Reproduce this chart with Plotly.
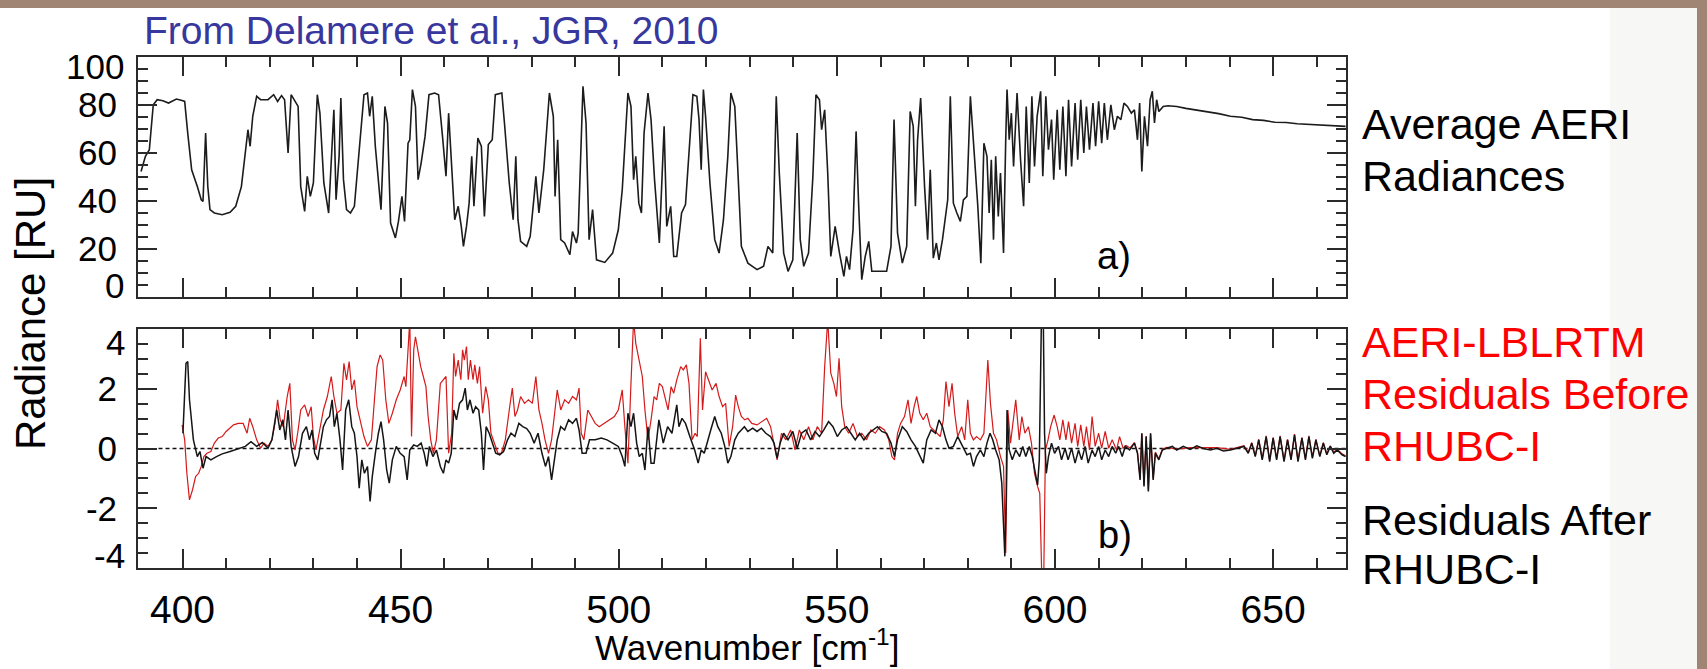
import plotly.graph_objects as go

# ---------------- data ----------------
wn_top = [390.5, 391.5, 392.4, 393.3, 394.2, 395.5, 396.8, 398.6, 399.9, 400.5, 401.2, 402.1, 403.4, 404.3, 404.7,
          405.3, 405.8, 406.3, 407.3, 409.1, 410.9, 412.2, 413.5, 414.4, 415.0, 415.5, 416.1, 417.0, 417.9, 419.6,
          420.9, 421.8, 422.7, 423.4, 424.2, 424.9, 425.8, 426.5, 427.1, 428.0, 428.6, 429.3, 430.0, 430.9, 431.5,
          432.4, 433.5, 434.1, 434.7, 435.2, 435.9, 436.3, 436.9, 437.6, 438.5, 439.4, 440.7, 441.6, 442.4, 442.9,
          443.5, 444.2, 445.5, 446.4, 447.0, 447.7, 448.8, 449.5, 450.3, 450.9, 451.7, 452.1, 452.7, 453.4, 454.0,
          454.7, 455.6, 456.5, 457.8, 458.7, 459.6, 460.4, 461.0, 461.7, 462.4, 463.2, 463.9, 464.4, 465.1, 465.7,
          466.3, 466.8, 467.7, 468.5, 469.2, 470.1, 471.0, 471.7, 473.2, 473.8, 474.9, 475.8, 476.4, 476.9, 477.5,
          478.9, 479.7, 480.6, 481.0, 481.7, 482.8, 484.1, 485.0, 485.4, 486.0, 486.7, 487.6, 488.8, 489.4, 490.3,
          490.7, 491.8, 492.5, 493.2, 494.0, 494.9, 496.8, 498.6, 499.9, 500.8, 502.1, 502.8, 503.4, 503.9, 504.6,
          505.2, 505.8, 506.7, 507.4, 508.2, 509.3, 510.4, 511.0, 511.9, 512.6, 513.3, 514.4, 515.3, 516.1, 517.0,
          517.9, 518.4, 518.9, 519.4, 519.9, 520.9, 522.0, 523.0, 524.0, 525.0, 525.7, 526.6, 527.4, 528.1, 529.6,
          531.7, 533.2, 534.2, 535.3, 536.1, 536.8, 537.8, 538.8, 539.9, 540.9, 541.6, 542.4, 543.5, 544.5, 545.2,
          546.0, 546.5, 547.2, 547.9, 548.6, 549.6, 550.6, 551.6, 552.2, 552.9, 553.7, 554.4, 555.0, 555.7, 556.5,
          557.3, 558.0, 559.3, 561.4, 562.4, 563.1, 563.9, 565.0, 566.0, 566.8, 567.5, 568.0, 568.5, 569.2, 570.1,
          570.8, 571.4, 572.1, 572.8, 573.4, 574.2, 574.7, 575.4, 576.0, 576.7, 577.5, 578.3, 579.0, 579.8, 580.6,
          581.3, 582.3, 583.0, 583.7, 584.4, 584.9, 585.4, 585.9, 586.4, 587.0, 587.5, 588.2, 588.7, 589.0, 589.5,
          590.0, 590.5, 591.3, 592.1, 592.8, 593.4, 594.1, 594.7, 595.3, 595.9, 596.7, 597.2, 597.9, 598.5, 599.2,
          599.7, 600.5, 601.1, 601.8, 602.5, 603.1, 603.8, 604.6, 605.2, 605.9, 606.6, 607.2, 607.9, 608.7, 609.3,
          610.0, 610.7, 611.3, 612.0, 612.8, 613.6, 614.3, 615.1, 615.8, 616.6, 617.5, 618.2, 618.9, 619.4, 619.9,
          620.5, 621.2, 621.8, 622.3, 622.8, 623.3, 623.8, 624.8, 625.9, 627.9, 630.0, 632.5, 635.1, 637.5, 640.2,
          642.8, 645.3, 647.8, 650.4, 653.0, 655.5, 658.0, 660.6, 663.5, 666.6]
rad_top = [52.3, 58.6, 61.4, 80.1, 82.2, 81.8, 80.8, 82.5, 81.9, 81.5, 68.3, 53.0, 46.0, 40.5, 39.8,
           68.3, 46.0, 36.4, 35.0, 34.3, 35.3, 37.8, 46.0, 60.0, 69.7, 62.8, 75.3, 83.6, 82.2, 82.2,
           84.3, 81.5, 83.9, 82.2, 60.0, 84.3, 81.5, 79.4, 46.0, 35.7, 50.3, 41.9, 47.5, 84.3, 76.6,
           47.5, 35.0, 54.4, 78.0, 40.5, 58.6, 82.9, 48.9, 36.4, 35.0, 37.8, 65.5, 84.3, 85.0, 75.3,
           83.6, 62.8, 36.4, 79.4, 72.5, 30.8, 24.6, 31.5, 41.9, 31.5, 64.1, 65.5, 86.4, 79.4, 48.9,
           55.8, 66.9, 84.3, 85.0, 84.3, 66.9, 50.3, 76.6, 54.4, 32.2, 37.8, 29.4, 21.1, 29.4, 39.1,
           58.6, 37.8, 66.2, 62.8, 33.6, 63.5, 65.5, 84.3, 85.0, 72.5, 47.5, 32.2, 58.6, 32.2, 23.2,
           21.1, 25.3, 41.9, 50.3, 35.0, 53.0, 85.0, 75.3, 41.9, 65.5, 23.9, 22.5, 17.6, 27.3, 22.5,
           26.6, 87.8, 72.5, 23.9, 36.4, 15.5, 14.4, 18.3, 28.0, 44.7, 85.0, 79.4, 48.9, 58.6, 39.1,
           35.0, 68.3, 85.0, 73.9, 48.9, 22.5, 71.1, 29.4, 37.8, 16.9, 16.9, 35.0, 38.5, 60.0, 84.3,
           83.6, 73.9, 53.0, 86.4, 75.3, 47.5, 23.9, 18.3, 32.2, 58.6, 85.0, 79.4, 48.9, 21.1, 14.1,
           11.4, 12.8, 21.1, 18.3, 83.6, 51.7, 18.3, 10.7, 15.5, 68.3, 23.9, 12.8, 18.3, 50.3, 84.3,
           82.2, 69.7, 78.0, 51.7, 16.9, 29.4, 18.3, 8.6, 16.9, 11.4, 28.0, 69.0, 37.8, 7.2, 16.9,
           23.2, 10.7, 10.7, 10.7, 21.1, 73.9, 26.6, 14.1, 21.1, 77.3, 71.1, 37.8, 65.5, 82.9, 46.0,
           23.9, 53.0, 16.2, 22.5, 15.5, 23.9, 31.5, 40.5, 83.6, 39.1, 35.0, 31.5, 40.5, 41.9, 83.6,
           65.5, 37.8, 14.1, 64.1, 58.6, 35.0, 57.2, 23.9, 58.6, 33.6, 51.7, 18.3, 65.5, 86.4, 65.5,
           76.6, 54.4, 85.0, 57.2, 37.8, 79.4, 47.5, 83.6, 54.4, 75.3, 85.7, 50.3, 83.6, 61.4, 73.9,
           48.9, 78.0, 53.0, 79.4, 50.3, 82.2, 54.4, 80.8, 57.2, 82.2, 60.0, 79.4, 61.4, 80.8, 62.8,
           81.5, 64.1, 80.8, 65.5, 80.1, 69.7, 75.3, 73.9, 80.8, 79.4, 76.6, 78.0, 65.5, 80.8, 52.3,
           75.3, 62.8, 82.2, 85.7, 72.5, 82.2, 77.3, 79.4, 79.7, 79.4, 78.6, 77.9, 77.3, 76.4, 75.3,
           74.9, 73.9, 73.6, 72.8, 72.7, 72.2, 72.0, 71.8, 71.4, 71.1]

wn_before = [399.9, 400.5, 401.0, 401.6, 402.3, 403.0, 403.7, 404.3, 404.9, 405.6, 406.5, 407.3, 408.2, 409.1, 410.0,
             410.9, 411.7, 412.8, 413.9, 414.8, 415.4, 416.1, 417.0, 417.9, 418.7, 419.6, 420.5, 421.2, 421.8, 422.4,
             423.1, 424.0, 424.6, 425.2, 425.8, 426.5, 427.1, 428.0, 428.8, 429.5, 430.0, 430.6, 431.5, 432.3, 433.2,
             434.1, 434.7, 435.4, 436.3, 437.0, 437.6, 438.2, 438.8, 439.4, 440.0, 440.7, 441.6, 442.4, 443.3, 444.0,
             444.6, 445.3, 445.9, 446.6, 447.3, 448.1, 449.0, 449.9, 450.8, 451.2, 451.7, 452.1, 452.5, 453.0, 453.4,
             453.8, 454.6, 455.2, 455.8, 456.3, 456.9, 457.5, 458.2, 459.1, 459.8, 460.4, 461.0, 461.7, 462.2, 462.6,
             463.2, 463.8, 464.2, 464.6, 465.1, 465.5, 466.0, 466.6, 467.0, 467.6, 468.1, 468.8, 469.5, 470.1, 470.7,
             471.4, 472.3, 473.1, 474.0, 474.9, 475.6, 476.2, 476.8, 477.5, 478.4, 479.3, 480.2, 481.0, 481.7, 482.4,
             483.1, 483.9, 484.6, 485.3, 485.9, 486.7, 487.6, 488.5, 489.4, 490.3, 490.9, 491.4, 492.0, 492.9, 493.8,
             494.6, 495.5, 496.7, 497.7, 499.0, 499.9, 500.8, 501.4, 502.1, 502.8, 503.4, 503.9, 504.7, 505.4, 506.0,
             506.7, 507.4, 508.1, 508.7, 509.3, 510.0, 510.7, 511.3, 512.0, 512.6, 513.3, 514.2, 514.8, 515.5, 516.1,
             516.8, 517.5, 518.0, 518.7, 519.2, 519.9, 520.6, 521.4, 522.3, 523.0, 523.8, 524.5, 525.3, 526.1, 526.8,
             527.4, 528.1, 528.9, 529.6, 530.5, 531.7, 532.9, 533.9, 534.8, 535.6, 536.3, 537.3, 538.3, 539.4, 540.4,
             541.4, 542.4, 543.5, 544.5, 545.5, 546.5, 547.2, 547.9, 548.6, 549.3, 549.9, 550.5, 551.1, 551.8, 552.7,
             553.7, 554.7, 555.7, 556.8, 557.8, 558.8, 559.8, 560.9, 561.9, 562.6, 563.2, 563.9, 564.6, 565.5, 566.3,
             567.0, 567.7, 568.3, 569.0, 569.8, 570.6, 571.4, 572.1, 572.8, 573.7, 574.4, 575.0, 575.7, 576.4, 577.0,
             577.7, 578.6, 579.3, 580.0, 580.6, 581.3, 582.0, 582.9, 583.7, 584.6, 585.2, 585.9, 586.6, 587.5, 588.2,
             588.7, 589.2, 589.8, 590.5, 591.0, 591.8, 592.4, 593.1, 593.9, 594.6, 595.3, 596.0, 596.5, 597.0, 597.4,
             597.8, 598.4, 599.0, 599.8, 600.5, 601.1, 601.8, 602.5, 603.1, 603.8, 604.6, 605.2, 605.9, 606.6, 607.2,
             607.9, 608.5, 609.2, 610.0, 610.7, 611.5, 612.3, 613.1, 614.1, 614.8, 615.6, 616.3, 617.2, 618.2, 618.9,
             619.5, 619.9, 620.4, 620.9, 621.4, 621.9, 622.5, 623.0, 623.8, 624.6, 625.6, 627.9, 631.0, 634.0, 637.1,
             640.2, 643.3, 644.3, 645.1, 645.9, 646.7, 647.5, 648.4, 649.2, 650.0, 650.8, 651.6, 652.5, 653.3, 654.1,
             654.9, 655.7, 656.6, 657.4, 658.2, 659.0, 659.8, 660.7, 661.5, 662.3, 663.1, 663.9, 664.7, 665.8, 666.6]
res_before = [0.79, 0.29, -0.83, -1.72, -1.38, -0.94, -0.83, -0.60, -0.27, -0.16, -0.10, 0.18, 0.35, 0.40, 0.57,
              0.68, 0.79, 0.84, 0.84, 0.51, 1.01, 0.73, 0.29, 0.01, 0.18, 0.07, 0.29, 0.84, 1.63, 0.96,
              0.73, 1.74, 2.18, 0.29, -0.05, 0.62, 1.29, 1.46, 1.07, 1.40, 0.40, -0.05, 0.73, 1.29, 1.74,
              2.41, 1.74, 1.18, 1.29, 2.85, 2.30, 2.91, 1.96, 2.30, 1.40, 0.96, 0.40, 0.07, 0.29, 1.63,
              2.74, 3.13, 2.96, 1.63, 0.84, 1.18, 1.63, 1.96, 2.41, 2.07, 3.19, 4.30, 0.40, 3.30, 3.74,
              3.41, 2.74, 2.41, 2.07, 1.07, 0.29, -0.16, 0.29, 2.18, 2.30, 2.41, -0.16, 0.51, 3.19, 2.41,
              2.96, 2.30, 3.30, 2.96, 3.41, 2.30, 2.96, 2.30, 2.80, 2.18, 2.74, 1.18, 2.07, 1.63, 0.51,
              0.18, -0.16, -0.16, 0.29, 1.29, 2.02, 1.07, 1.29, 1.74, 1.51, 1.63, 1.51, 2.41, 1.29, 0.84,
              0.29, -0.16, 0.29, 1.18, 1.96, 1.29, 1.63, 1.51, 1.74, 1.63, 2.02, 0.51, 0.29, 1.29, 1.07,
              0.84, 0.73, 0.84, 0.96, 1.07, 1.29, 1.96, 0.73, -0.49, 2.18, 4.30, 3.52, 2.96, 2.41, 1.29,
              0.29, 0.96, 1.74, 1.63, 2.18, 2.07, 1.63, 1.29, 2.07, 1.85, 2.30, 2.74, 2.63, 2.80, 2.18,
              0.29, 0.51, 0.40, 3.69, 1.29, 2.57, 2.30, 1.96, 2.18, 1.74, 1.40, 1.51, 0.07, 0.73, 1.79,
              1.40, 1.07, 0.96, 1.01, 0.84, 0.79, 0.90, 1.01, 0.73, 0.18, -0.38, 0.51, 0.29, 0.62, -0.05,
              0.62, 0.29, 0.73, 0.29, 0.73, 0.51, 2.74, 4.30, 2.52, 2.18, 1.74, 3.02, 1.40, 0.73, 0.51,
              0.84, 0.40, 0.51, 0.29, 0.62, 0.51, 0.73, 0.62, 0.29, -0.27, -0.38, 0.51, 0.84, 1.07, 1.63,
              0.84, 1.40, 1.74, 1.18, 0.96, 1.18, 0.73, 0.62, 0.51, 0.40, 0.96, 2.24, 1.40, 2.18, 1.18,
              0.40, 0.73, 0.29, 1.63, 0.51, 0.29, 0.40, 0.29, 0.51, 2.96, 1.51, 0.51, 0.29, -0.27, -0.60,
              -3.50, 1.29, 0.18, 0.96, 1.63, 0.29, 1.07, 0.51, 0.73, 0.18, -0.83, -1.27, -1.50, -4.50, -4.50,
              -0.05, 0.29, 0.73, 1.12, 0.73, 0.29, 0.96, 0.29, 0.90, 0.18, 0.84, 0.07, 0.79, 0.07, 0.73,
              -0.05, 1.07, 0.07, 0.51, 0.01, 0.57, 0.01, 0.29, -0.05, 0.40, 0.01, 0.10, 0.02, 0.20, -0.12,
              -1.00, 0.50, -1.22, 0.42, -1.40, 0.50, -1.00, -0.12, -0.34, -0.02, 0.04, -0.02, 0.03, 0.02, 0.03,
              -0.03, 0.09, -0.12, 0.20, -0.25, 0.31, -0.35, 0.42, -0.40, 0.37, -0.35, 0.42, -0.40, 0.31, -0.35,
              0.48, -0.40, 0.37, -0.35, 0.42, -0.30, 0.31, -0.25, 0.20, -0.18, 0.09, -0.12, -0.03, -0.18, -0.24]

wn_after = [400.1, 400.8, 401.2, 401.6, 402.5, 403.4, 404.0, 404.7, 405.4, 406.5, 407.8, 409.1, 410.9, 412.6, 414.4,
            415.7, 417.0, 418.3, 419.6, 420.5, 421.6, 422.3, 423.0, 423.6, 424.2, 424.9, 425.8, 426.6, 427.5, 428.4,
            429.1, 429.7, 430.3, 431.0, 431.7, 432.3, 433.0, 433.7, 434.3, 434.8, 435.4, 436.1, 436.7, 437.4, 438.1,
            438.8, 439.4, 440.0, 440.5, 441.1, 441.7, 442.4, 443.0, 443.5, 444.2, 444.9, 445.5, 446.1, 446.8, 447.4,
            448.1, 449.0, 449.9, 450.8, 451.5, 452.1, 453.0, 453.8, 454.7, 455.4, 456.0, 456.6, 457.4, 458.2, 459.1,
            459.8, 460.4, 461.0, 461.6, 462.2, 462.8, 463.5, 464.2, 464.8, 465.3, 465.9, 466.6, 467.2, 467.9, 468.5,
            469.0, 469.6, 470.3, 471.0, 471.8, 472.7, 473.6, 474.5, 475.3, 476.2, 477.1, 478.0, 478.9, 479.7, 480.6,
            481.5, 482.4, 483.2, 483.9, 484.6, 485.3, 485.9, 486.7, 487.6, 488.5, 489.4, 490.3, 490.9, 491.6, 492.5,
            493.3, 494.6, 496.0, 497.3, 498.6, 499.9, 500.8, 501.4, 502.1, 502.8, 503.4, 504.1, 504.7, 505.4, 506.0,
            506.7, 507.4, 508.1, 509.2, 510.2, 511.2, 512.2, 513.3, 513.8, 514.5, 515.3, 516.3, 517.4, 518.2, 518.9,
            519.6, 520.4, 521.2, 522.0, 522.7, 523.5, 524.3, 525.0, 525.7, 526.6, 527.4, 528.1, 528.8, 529.6, 530.7,
            531.7, 532.7, 533.7, 534.8, 535.6, 536.3, 537.0, 537.8, 538.8, 539.9, 540.9, 541.9, 542.9, 544.0, 545.0,
            546.0, 547.0, 548.1, 549.1, 550.1, 551.1, 552.2, 553.2, 554.2, 555.2, 556.2, 557.3, 558.3, 559.3, 560.3,
            561.4, 562.4, 563.2, 563.9, 565.0, 566.0, 567.0, 568.0, 569.0, 569.8, 570.6, 571.6, 572.6, 573.4, 574.2,
            575.0, 575.7, 576.7, 577.7, 578.8, 579.8, 580.6, 581.3, 582.0, 582.9, 583.7, 584.4, 585.1, 585.7, 586.4,
            587.2, 587.8, 588.2, 588.5, 588.8, 589.0, 589.5, 590.2, 591.0, 591.9, 592.6, 593.3, 594.1, 594.8, 595.5,
            596.0, 596.4, 596.9, 597.3, 597.6, 598.0, 598.5, 599.2, 599.9, 600.8, 601.5, 602.3, 603.0, 603.8, 604.6,
            605.4, 606.1, 606.9, 607.6, 608.5, 609.2, 610.0, 610.7, 611.5, 612.3, 613.1, 613.9, 614.6, 615.4, 616.1,
            617.1, 618.2, 618.9, 619.5, 619.9, 620.4, 620.9, 621.4, 621.9, 622.5, 623.0, 623.8, 624.6, 625.6, 626.9,
            627.9, 629.4, 631.0, 632.5, 634.0, 635.6, 637.1, 638.6, 640.2, 641.7, 643.3, 644.3, 645.1, 645.9, 646.7,
            647.5, 648.4, 649.2, 650.0, 650.8, 651.6, 652.5, 653.3, 654.1, 654.9, 655.7, 656.6, 657.4, 658.2, 659.0,
            659.8, 660.7, 661.5, 662.3, 663.1, 663.9, 664.7, 665.8, 666.6]
res_after = [0.51, 2.85, 2.91, 1.63, 0.29, -0.27, -0.10, -0.66, -0.27, -0.38, -0.27, -0.18, -0.10, -0.02, 0.07,
             0.23, 0.07, 0.20, 0.01, 0.29, 1.29, 0.62, 0.96, 0.29, 1.29, 0.07, -0.60, -0.27, 0.51, 0.73,
             0.29, 0.62, -0.16, -0.38, 0.29, 0.73, 0.96, 1.07, 1.63, 0.73, 1.18, 0.29, -0.72, 1.29, 1.63,
             0.73, 0.51, -0.27, -1.33, -0.38, -0.83, -0.60, -1.77, -0.94, -0.16, 0.51, 0.90, 0.29, -0.72, -1.16,
             -0.38, 0.07, -0.16, -0.27, -1.05, -0.05, 0.12, 0.07, 0.18, -0.16, -0.60, 0.07, -0.27, -0.05, -0.60,
             -0.83, -0.38, -0.49, -0.16, 1.29, 0.96, 1.51, 1.63, 2.02, 1.29, 1.63, 1.18, 1.40, 1.29, 0.51,
             -0.72, 0.73, 0.51, 0.18, -0.16, -0.21, -0.10, 0.29, 0.51, 0.40, 0.84, 0.73, 0.67, 0.51, 0.18,
             0.51, -0.16, -0.60, -0.27, -1.05, -0.38, 0.29, 0.73, 0.62, 0.96, 0.84, 1.01, 0.62, -0.16, -0.16,
             0.29, 0.29, 0.35, 0.29, 0.18, 0.07, -0.27, -0.60, 1.18, 0.73, 1.18, 0.18, -0.27, -0.16, -0.72,
             0.73, -0.49, -0.49, 0.96, 0.18, 0.73, 0.51, 1.46, 0.73, 1.01, 0.84, 0.40, -0.05, -0.49, -0.05,
             -0.16, 0.29, 0.68, 1.07, 0.73, 0.51, 0.07, -0.49, -0.27, 0.29, 0.51, 0.62, 0.73, 0.57, 0.68,
             0.57, 0.68, 0.51, 0.40, 0.18, -0.32, 0.18, 0.51, 0.29, 0.57, 0.01, 0.51, 0.62, 0.29, 0.57,
             0.40, 0.62, 0.90, 0.73, 0.40, 0.62, 0.73, 0.51, 0.29, 0.51, 0.29, 0.51, 0.62, 0.73, 0.57,
             0.51, 0.18, -0.27, 0.29, 0.73, 0.57, 0.29, 0.07, -0.27, -0.49, 0.29, 0.62, 0.51, 0.96, 0.73,
             0.29, 0.01, 0.07, 0.40, 0.07, -0.21, -0.16, -0.60, -0.27, -0.05, -0.27, 0.18, 0.51, 0.30, -0.05,
             -0.38, -1.16, -2.83, -3.61, -1.72, 1.29, -0.05, -0.38, -0.05, -0.27, 0.07, -0.27, 0.07, -0.27, -0.83,
             -1.22, -0.38, 4.50, 4.50, 0.51, -0.83, -0.27, 0.18, -0.16, 0.07, -0.38, 0.01, -0.38, 0.01, -0.49,
             -0.05, -0.38, 0.07, -0.49, -0.05, -0.27, 0.07, -0.38, -0.05, -0.27, 0.07, -0.16, 0.07, -0.27, 0.07,
             -0.05, 0.18, -0.16, -1.05, 0.51, -1.27, 0.40, -1.44, 0.51, -1.05, -0.16, -0.38, -0.05, 0.01, 0.07,
             -0.05, 0.07, -0.03, 0.09, 0.00, -0.05, 0.01, -0.08, -0.05, 0.01, 0.07, -0.16, 0.18, -0.27, 0.29,
             -0.38, 0.40, -0.44, 0.35, -0.38, 0.40, -0.44, 0.29, -0.38, 0.46, -0.44, 0.35, -0.38, 0.40, -0.33,
             0.29, -0.27, 0.18, -0.21, 0.07, -0.16, -0.05, -0.21, -0.27]

zero_x = [394.5, 666.7]
zero_y = [0, 0]

x_ticks = [400, 450, 500, 550, 600, 650]
top_ticks = [0, 20, 40, 60, 80, 100]
bot_ticks = [-4, -2, 0, 2, 4]

# ---------------- layout geometry ----------------
W, H = 1707, 669
L, R = 138, 361
T, B = 57, 101
PW = W - L - R
PH = H - T - B
FONT = "Liberation Sans, Arial, Helvetica, sans-serif"


def px_x(px):
    return (px - L) / PW


def px_y(py):
    return (H - B - py) / PH


fig = go.Figure()

fig.add_trace(go.Scatter(x=wn_top, y=rad_top, mode="lines", xaxis="x", yaxis="y",
                         line=dict(color="#1c1c1c", width=1.6), hoverinfo="skip"))
fig.add_trace(go.Scatter(x=zero_x, y=zero_y, mode="lines", xaxis="x2", yaxis="y2",
                         line=dict(color="#111111", width=1.3, dash="4px,3px"), hoverinfo="skip"))
fig.add_trace(go.Scatter(x=wn_before, y=res_before, mode="lines", xaxis="x2", yaxis="y2",
                         line=dict(color="#d41a1a", width=1.2), hoverinfo="skip"))
fig.add_trace(go.Scatter(x=wn_after, y=res_after, mode="lines", xaxis="x2", yaxis="y2",
                         line=dict(color="#151515", width=1.5), hoverinfo="skip"))

axcol = "#2b2b2b"
common = dict(showgrid=False, zeroline=False, showline=True, linecolor=axcol, linewidth=2,
              mirror="ticks", ticks="inside", tickcolor=axcol, tickwidth=1.5)

xcommon = dict(common, range=[389.8, 666.7], tickmode="array", tickvals=x_ticks, ticklen=19,
               minor=dict(tickmode="linear", tick0=400, dtick=10, ticklen=10, ticks="inside",
                          tickcolor=axcol, tickwidth=1.5))

# inner labels come from the axes; the two edge labels of each panel are placed
# slightly inward (as in the original figure) with annotations below
top_inner = top_ticks[1:-1]
bot_inner = bot_ticks[1:-1]

YFS = 35

fig.update_layout(
    width=W, height=H,
    margin=dict(l=L, r=R, t=T, b=B, pad=0),
    paper_bgcolor="white", plot_bgcolor="white",
    showlegend=False,
    font=dict(family=FONT, color="black"),
    xaxis=dict(xcommon, domain=[0, 1], anchor="y", showticklabels=False),
    xaxis2=dict(xcommon, domain=[0, 1], anchor="y2", showticklabels=True,
                ticktext=[str(v) for v in x_ticks], tickfont=dict(size=39, family=FONT),
                ticklabelstandoff=6),
    yaxis=dict(common, domain=[px_y(297), 1], anchor="x", range=[0, 100],
               tickmode="array", tickvals=top_inner, ticktext=[str(v) for v in top_inner], ticklen=19,
               tickfont=dict(size=YFS, family=FONT), ticklabelstandoff=12,
               minor=dict(tickmode="linear", tick0=0, dtick=5, ticklen=10, ticks="inside",
                          tickcolor=axcol, tickwidth=1.5)),
    yaxis2=dict(common, domain=[0, px_y(329)], anchor="x2", range=[-4, 4],
                tickmode="array", tickvals=bot_inner, ticktext=[str(v) for v in bot_inner], ticklen=19,
                tickfont=dict(size=YFS, family=FONT), ticklabelstandoff=12,
                minor=dict(tickmode="linear", tick0=0, dtick=0.5, ticklen=10, ticks="inside",
                           tickcolor=axcol, tickwidth=1.5)),
)

# background pieces of the slide
shapes = [
    dict(type="rect", xref="paper", yref="paper", x0=px_x(1610), x1=px_x(1697), y0=px_y(669), y1=px_y(8),
         fillcolor="#f7f7f6", line=dict(width=0), layer="below"),
    dict(type="rect", xref="paper", yref="paper", x0=px_x(0), x1=px_x(1707), y0=px_y(8), y1=px_y(0),
         fillcolor="#a08474", line=dict(width=0), layer="below"),
    dict(type="rect", xref="paper", yref="paper", x0=px_x(1697), x1=px_x(1707), y0=px_y(669), y1=px_y(0),
         fillcolor="#a08474", line=dict(width=0), layer="below"),
]
fig.update_layout(shapes=shapes)

ann = []


def txt(text, x, y, size, color="black", xanchor="left", yanchor="middle", angle=0, xref="paper", yref="paper"):
    ann.append(dict(text=text, x=x, y=y, xref=xref, yref=yref, xanchor=xanchor, yanchor=yanchor,
                    showarrow=False, textangle=angle, borderpad=0,
                    font=dict(size=size, color=color, family=FONT)))


# edge tick labels (nudged inward as in the original figure)
txt(str(top_ticks[-1]), px_x(125), px_y(66), YFS, xanchor="right")
txt(str(top_ticks[0]), px_x(125), px_y(285), YFS, xanchor="right")
txt(str(bot_ticks[-1]), px_x(126), px_y(342), YFS, xanchor="right")
txt(str(bot_ticks[0]), px_x(126), px_y(555), YFS, xanchor="right")

# titles
txt("From Delamere et al., JGR, 2010", px_x(143), px_y(31), 39, color="#37379e")
txt("Radiance [RU]", px_x(30), px_y(314), 42, xanchor="center", angle=-90)
txt("Wavenumber [cm<sup>-1</sup>]", px_x(747), px_y(645), 35, xanchor="center")

# panel labels
txt("a)", 613.5, 17.0, 38, xanchor="center", xref="x", yref="y")
txt("b)", 613.8, -2.9, 38, xanchor="center", xref="x2", yref="y2")

# right-hand legend text
RX = px_x(1361)
RFS = 43
txt("Average AERI", RX, px_y(124), RFS)
txt("Radiances", RX, px_y(176), RFS)
txt("AERI-LBLRTM", RX, px_y(342), RFS, color="#ff0000")
txt("Residuals Before", RX, px_y(394), RFS, color="#ff0000")
txt("RHUBC-I", RX, px_y(446), RFS, color="#ff0000")
txt("Residuals After", RX, px_y(520), RFS)
txt("RHUBC-I", RX, px_y(569), RFS)

fig.update_layout(annotations=ann)

fig.write_html("out.html")
